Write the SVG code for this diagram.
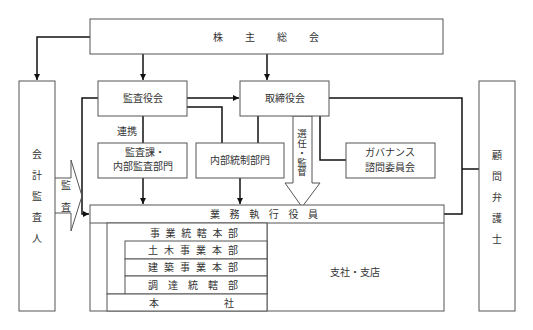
<svg xmlns="http://www.w3.org/2000/svg" width="533" height="330" viewBox="0 0 533 330">
<defs>
<marker id="ah" viewBox="0 0 8 8" refX="8" refY="4" markerWidth="6" markerHeight="6" markerUnits="userSpaceOnUse" orient="auto">
<path d="M0,0 L8,4 L0,8 Z" fill="#111"/>
</marker>
<style>
.box{fill:#fff;stroke:#555;stroke-width:1}
.ln{fill:none;stroke:#111;stroke-width:1.5}
.t{font-family:"Noto Sans CJK JP","Noto Sans CJK SC",sans-serif;font-size:10px;fill:#333}
.m{text-anchor:middle}
.v{writing-mode:vertical-rl;font-size:9.5px}
</style>
</defs>
<rect width="533" height="330" fill="#fff"/>
<g id="connectors">
<polyline class="ln" points="90,37 37,37 37,80" marker-end="url(#ah)"/>
<line class="ln" x1="143" y1="54" x2="143" y2="80" marker-end="url(#ah)"/>
<line class="ln" x1="267" y1="54" x2="267" y2="80" marker-end="url(#ah)"/>
<line class="ln" x1="187" y1="98" x2="239" y2="98" marker-end="url(#ah)"/>
<polyline class="ln" points="187,107 222,107 222,143"/>
<polyline class="ln" points="98,98 82,98 82,214 89,214" marker-end="url(#ah)"/>
<line class="ln" x1="143" y1="116" x2="143" y2="143"/>
<line class="ln" x1="143" y1="178" x2="143" y2="204" marker-end="url(#ah)"/>
<line class="ln" x1="240" y1="178" x2="240" y2="204" marker-end="url(#ah)"/>
<line class="ln" x1="258" y1="116" x2="258" y2="143"/>
<polyline class="ln" points="320,116 320,160 346,160"/>
<polyline class="ln" points="329,98 462,98 462,214 444,214"/>
<line class="ln" x1="462" y1="169" x2="479" y2="169"/>
<polygon points="293,116 293,183 285,183 302,207 320,183 312,183 312,116" fill="#fff" stroke="#555" stroke-width="1"/>
<polyline points="55,178 71,178 71,160 82,196 71,231 71,213 55,213" fill="none" stroke="#555" stroke-width="1"/>
</g>
<g id="kabunushi">
<rect class="box" x="90" y="19" width="353" height="35"/>
<text class="t" x="213" y="41" letter-spacing="22">株主総会</text>
</g>
<g id="kaikei">
<rect class="box" x="19" y="81" width="36" height="230"/>
<text class="t m"><tspan x="37" y="158">会</tspan><tspan x="37" y="179">計</tspan><tspan x="37" y="200">監</tspan><tspan x="37" y="221">査</tspan><tspan x="37" y="242">人</tspan></text>
</g>
<g id="komon">
<rect class="box" x="479" y="81" width="36" height="230"/>
<text class="t m"><tspan x="497" y="159">顧</tspan><tspan x="497" y="180">問</tspan><tspan x="497" y="201">弁</tspan><tspan x="497" y="222">護</tspan><tspan x="497" y="243">士</tspan></text>
</g>
<g id="kansayakukai">
<rect class="box" x="98" y="81" width="89" height="35"/>
<text class="t m" x="143" y="102">監査役会</text>
</g>
<g id="torishimariyakukai">
<rect class="box" x="240" y="81" width="89" height="35"/>
<text class="t m" x="285" y="102">取締役会</text>
</g>
<g id="renkei-label">
<text class="t m" x="127" y="135">連携</text>
</g>
<g id="kansa-label">
<text class="t m"><tspan x="66" y="189">監</tspan><tspan x="66" y="211">査</tspan></text>
</g>
<g id="naibukansa">
<rect class="box" x="98" y="143" width="89" height="35"/>
<text class="t m"><tspan x="145" y="155.5">監査課・</tspan><tspan x="143" y="170">内部監査部門</tspan></text>
</g>
<g id="naibutousei">
<rect class="box" x="196" y="143" width="88" height="35"/>
<text class="t m" x="240" y="164">内部統制部門</text>
</g>
<g id="governance">
<rect class="box" x="346" y="143" width="89" height="35"/>
<text class="t m"><tspan x="390" y="156">ガバナンス</tspan><tspan x="390" y="171">諮問委員会</tspan></text>
</g>
<g id="senin-label">
<text class="t v" x="302" y="129">選任・監督</text>
</g>
<g id="gyoumu">
<rect class="box" x="90" y="205" width="354" height="106"/>
<line x1="90" y1="223" x2="444" y2="223" stroke="#555" stroke-width="1"/>
<text class="t" x="210" y="218" letter-spacing="9.6">業務執行役員</text>
<line x1="267" y1="223" x2="267" y2="311" stroke="#555" stroke-width="1"/>
<text class="t m" x="355" y="276">支社・支店</text>
</g>
<g id="jigyou">
<rect class="box" x="107" y="223" width="160" height="71"/>
<text class="t" x="150" y="237" letter-spacing="5.6">事業統轄本部</text>
</g>
<g id="doboku">
<rect class="box" x="125" y="241" width="142" height="18"/>
<text class="t" x="148" y="254" letter-spacing="6">土木事業本部</text>
</g>
<g id="kenchiku">
<rect class="box" x="125" y="259" width="142" height="17"/>
<text class="t" x="148" y="271" letter-spacing="6">建築事業本部</text>
</g>
<g id="choutatsu">
<rect class="box" x="125" y="276" width="142" height="18"/>
<text class="t" x="148" y="289" letter-spacing="10">調達統轄部</text>
</g>
<g id="honsha">
<rect class="box" x="107" y="294" width="160" height="17"/>
<text class="t" x="149" y="307" letter-spacing="65">本社</text>
</g>
</svg>
